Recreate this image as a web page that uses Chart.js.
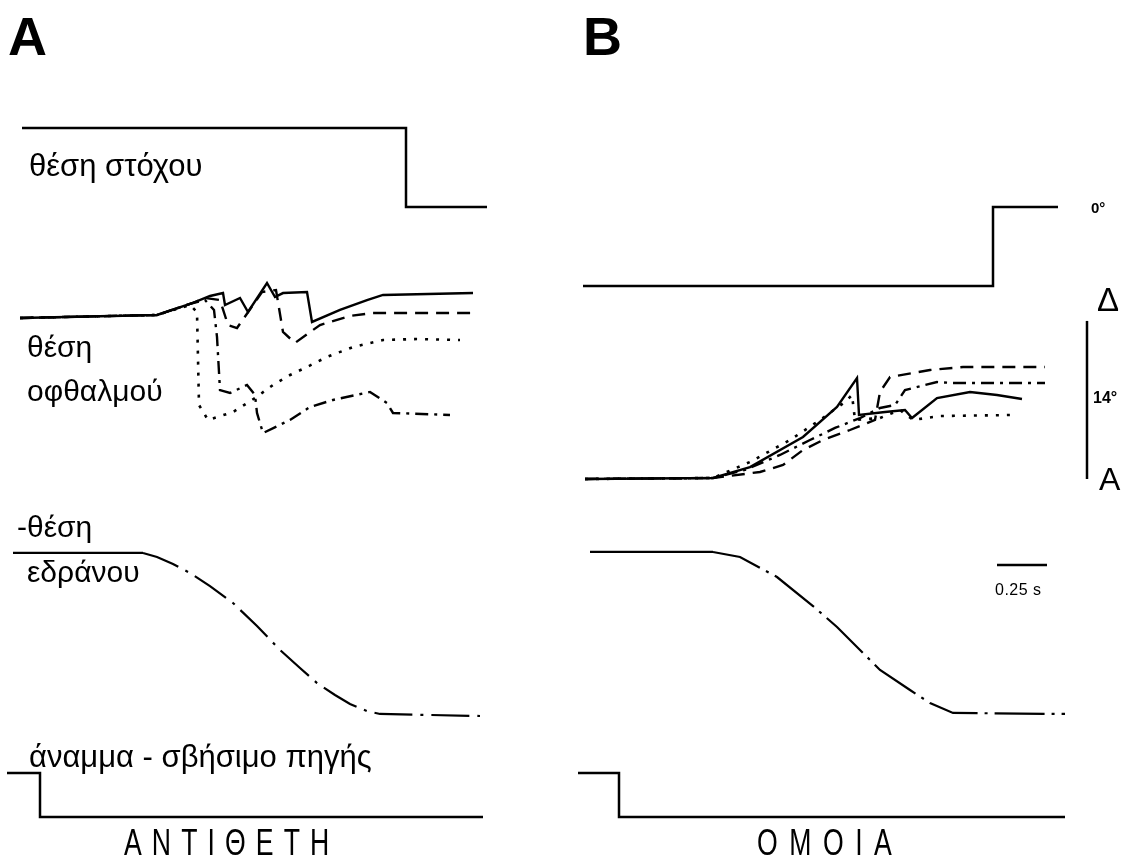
<!DOCTYPE html>
<html>
<head>
<meta charset="utf-8">
<script src="https://cdn.jsdelivr.net/npm/chart.js@4.4.1/dist/chart.umd.min.js"></script>
<style>
  html,body{margin:0;padding:0;background:#fff;}
  #wrap{position:relative;width:1132px;height:861px;overflow:hidden;background:#fff;}
  #c{position:absolute;left:0;top:0;}
  .t{position:absolute;font-family:"Liberation Sans",Arial,sans-serif;color:#000;white-space:nowrap;line-height:1;}
  .big{font-weight:bold;font-size:54px;}
  .lab{font-size:30px;}
  .cond{font-size:37px;letter-spacing:14px;transform:scaleX(0.72);transform-origin:0 0;}
</style>
</head>
<body>
<div id="wrap">
  <canvas id="c" width="1132" height="861"></canvas>
  <div class="t big" style="left:8px;top:9px;">A</div>
  <div class="t big" style="left:583px;top:9px;">B</div>
  <div class="t lab" style="left:29px;top:150px;font-size:31px;">θέση στόχου</div>
  <div class="t lab" style="left:27px;top:332px;">θέση</div>
  <div class="t lab" style="left:27px;top:376px;">οφθαλμού</div>
  <div class="t lab" style="left:17px;top:512px;">-θέση</div>
  <div class="t lab" style="left:27px;top:557px;">εδράνου</div>
  <div class="t lab" style="left:29px;top:741px;font-size:31px;">άναμμα - σβήσιμο πηγής</div>
  <div class="t cond" style="left:124px;top:824px;">ΑΝΤΙΘΕΤΗ</div>
  <div class="t cond" style="left:757px;top:824px;letter-spacing:16px;">ΟΜΟΙΑ</div>
  <div class="t" style="left:1091px;top:200px;font-size:15px;font-weight:bold;">0°</div>
  <div class="t" style="left:1097px;top:283px;font-size:33px;">Δ</div>
  <div class="t" style="left:1093px;top:390px;font-size:16px;font-weight:bold;">14°</div>
  <div class="t" style="left:1099px;top:463px;font-size:32px;">A</div>
  <div class="t" style="left:995px;top:582px;font-size:16px;letter-spacing:0.5px;">0.25 s</div>
</div>
<script>
// ---------- DATA (time in s, positions in degrees, light 1=on 0=off) ----------
// Panel A (ΑΝΤΙΘΕΤΗ)
const targetA_t   = [-0.09, 1.83, 1.83, 2.235];
const targetA_deg = [7, 7, 0, 0];

const eyeA_solid_t   = [-0.10,0.585,0.765,0.85,0.915,0.925,1.00,1.04,1.135,1.175,1.215,1.335,1.36,1.50,1.635,1.715,2.165];
const eyeA_solid_deg = [0,0.27,1.33,1.95,2.21,1.15,1.77,0.53,3.10,1.86,2.21,2.30,-0.35,0.71,1.59,2.04,2.21];

const eyeA_dash_t   = [-0.10,0.585,0.765,0.825,0.90,0.94,0.985,1.11,1.18,1.215,1.275,1.40,1.55,1.66,2.185];
const eyeA_dash_deg = [0,0.27,1.33,1.77,1.59,-0.62,-0.89,2.30,2.48,-1.24,-2.21,-0.62,0.18,0.44,0.44];

const eyeA_dot_t   = [-0.10,0.585,0.75,0.785,0.795,0.84,0.965,1.075,1.165,1.25,1.335,1.435,1.565,1.715,1.885,2.10];
const eyeA_dot_deg = [0,0.27,1.15,0.53,-7.71,-9.03,-8.33,-7.09,-5.93,-5.05,-4.34,-3.45,-2.57,-1.95,-1.86,-1.95];

const eyeA_dashdot_t   = [-0.10,0.585,0.765,0.825,0.87,0.885,0.90,0.95,1.035,1.075,1.085,1.115,1.25,1.35,1.465,1.65,1.735,1.765,2.05];
const eyeA_dashdot_deg = [0,0.27,1.33,1.59,0.71,-1.68,-6.38,-6.64,-5.93,-6.82,-8.41,-10.19,-9.03,-7.88,-7.26,-6.55,-7.53,-8.41,-8.59];

const chairA_t   = [-0.135,0.515,0.585,0.665,0.75,0.85,0.965,1.085,1.20,1.30,1.385,1.475,1.55,1.635,1.70,2.20];
const chairA_deg = [14.44,14.44,14.08,13.46,12.67,11.51,10.01,7.97,5.85,4.25,2.92,1.86,1.06,0.44,0.18,0];

const lightA_t  = [-0.165, 0, 0, 2.215];
const lightA_on = [1, 1, 0, 0];

// Panel B (ΟΜΟΙΑ)
const targetB_t   = [-0.18, 1.87, 1.87, 2.195];
const targetB_deg = [-7, -7, 0, 0];

const eyeB_solid_t   = [-0.17,0.47,0.655,0.92,1.09,1.19,1.20,1.33,1.43,1.465,1.59,1.755,1.89,2.015];
const eyeB_solid_deg = [0,0.09,1.06,3.72,6.38,8.95,5.67,5.93,6.11,5.40,7.17,7.71,7.44,7.09];

const eyeB_dash_t   = [-0.17,0.47,0.705,0.82,0.92,1.02,1.155,1.28,1.305,1.355,1.555,1.72,2.13];
const eyeB_dash_deg = [0,0.09,0.62,1.24,2.57,3.45,4.34,5.23,7.71,9.03,9.65,9.92,9.92];

const eyeB_dashdot_t   = [-0.17,0.47,0.63,0.805,0.955,1.08,1.205,1.305,1.38,1.43,1.47,1.59,1.67,2.13];
const eyeB_dashdot_deg = [0,0.09,0.80,2.13,3.45,4.52,5.40,6.29,6.55,7.88,8.06,8.59,8.50,8.50];

const eyeB_dot_t   = [-0.17,0.47,0.655,0.855,1.005,1.13,1.165,1.18,1.305,1.405,1.47,1.605,1.97];
const eyeB_dot_deg = [0,0.09,1.51,3.45,5.23,6.82,7.44,5.23,5.40,6.11,5.23,5.58,5.67];

const chairB_t   = [-0.145,0.47,0.605,0.79,0.97,1.09,1.205,1.305,1.455,1.555,1.67,2.23];
const chairB_deg = [14.53,14.53,14.08,12.31,9.74,7.88,5.85,4.08,2.30,1.15,0.27,0.18];

const lightB_t  = [-0.205, 0, 0, 2.23];
const lightB_on = [1, 1, 0, 0];

// Calibration bars (panel B)
const timeBar_t   = [1.89, 2.14];   // 0.25 s
const timeBar_deg = [13.37, 13.37];
const degBar_t    = [2.34, 2.34];
const degBar_deg  = [0, 14];        // 14°

// ---------- LAYOUT ----------
const W = 1132, H = 861;
const PX_PER_S = 200, PX_PER_DEG = 11.29;
function hScale(zeroPx, ppu){ return {type:'linear', display:false, min:-zeroPx/ppu, max:(W-zeroPx)/ppu}; }
function vScale(zeroPx, ppu){ return {type:'linear', display:false, max:zeroPx/ppu, min:(zeroPx-H)/ppu}; }

function pts(t, v){ return t.map((x,i)=>({x:x, y:v[i]})); }
function ds(t, v, xId, yId, dash, width, extra){
  return Object.assign({
    data: pts(t, v), xAxisID:xId, yAxisID:yId,
    borderColor:'#000', backgroundColor:'#000',
    borderWidth: width || 2.4, borderDash: dash || [],
    pointRadius:0, tension:0, fill:false, clip:false, borderCapStyle:'butt'
  }, extra || {});
}
const SOLID=[], DASH=[13,8], DOT=[3,8], DASHDOT=[13,6,3,6];
const chairSeg = pat => ({segment:{borderDash: c => c.p0DataIndex===0 ? [] : pat}});

new Chart(document.getElementById('c'), {
  type:'line',
  data:{ datasets:[
    ds(targetA_t, targetA_deg, 'xA','yTarget', SOLID, 2.5),
    ds(eyeA_solid_t, eyeA_solid_deg, 'xA','yEyeA', SOLID, 2.4),
    ds(eyeA_dash_t, eyeA_dash_deg, 'xA','yEyeA', DASH, 2.4),
    ds(eyeA_dot_t, eyeA_dot_deg, 'xA','yEyeA', DOT, 2.6),
    ds(eyeA_dashdot_t, eyeA_dashdot_deg, 'xA','yEyeA', DASHDOT, 2.4),
    ds(chairA_t, chairA_deg, 'xA','yChair', SOLID, 2.2, chairSeg([38,8,3,8])),
    ds(lightA_t, lightA_on, 'xA','yLight', SOLID, 2.5),

    ds(targetB_t, targetB_deg, 'xB','yTarget', SOLID, 2.5),
    ds(eyeB_solid_t, eyeB_solid_deg, 'xB','yEyeB', SOLID, 2.4),
    ds(eyeB_dash_t, eyeB_dash_deg, 'xB','yEyeB', DASH, 2.4),
    ds(eyeB_dashdot_t, eyeB_dashdot_deg, 'xB','yEyeB', DASHDOT, 2.4),
    ds(eyeB_dot_t, eyeB_dot_deg, 'xB','yEyeB', DOT, 2.6),
    ds(chairB_t, chairB_deg, 'xB','yChair', SOLID, 2.2, chairSeg([50,7,3,7])),
    ds(lightB_t, lightB_on, 'xB','yLight', SOLID, 2.5),

    ds(timeBar_t, timeBar_deg, 'xB','yChair', SOLID, 2.5),
    ds(degBar_t, degBar_deg, 'xB','yEyeB', SOLID, 2.5)
  ]},
  options:{
    responsive:false, animation:false, devicePixelRatio:1,
    layout:{padding:0},
    events:[],
    plugins:{legend:{display:false}, tooltip:{enabled:false}, title:{display:false}},
    scales:{
      xA: hScale(40, PX_PER_S),
      xB: hScale(619, PX_PER_S),
      yTarget: vScale(207, PX_PER_DEG),
      yEyeA: vScale(318, PX_PER_DEG),
      yEyeB: vScale(479, PX_PER_DEG),
      yChair: vScale(716, PX_PER_DEG),
      yLight: vScale(817, 44)
    }
  }
});
</script>
</body>
</html>
